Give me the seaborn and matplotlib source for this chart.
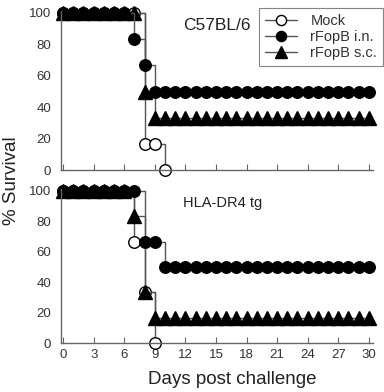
import matplotlib
matplotlib.use("Agg")
import matplotlib.pyplot as plt
from matplotlib.lines import Line2D
import numpy as np
import pandas as pd
import seaborn as sns

sns.set_style("ticks")
plt.rcParams['font.family'] = ['Liberation Sans', 'DejaVu Sans']

# ---- data ----
days = list(range(31))

top_mock = [100, 100, 100, 100, 100, 100, 100, 100, 16.7, 16.7, 0]
top_in = [100, 100, 100, 100, 100, 100, 100, 83.3, 66.7, 50, 50,
          50, 50, 50, 50, 50, 50, 50, 50, 50, 50,
          50, 50, 50, 50, 50, 50, 50, 50, 50, 50]
top_sc = [100, 100, 100, 100, 100, 100, 100, 100, 50, 33.3, 33.3,
          33.3, 33.3, 33.3, 33.3, 33.3, 33.3, 33.3, 33.3, 33.3, 33.3,
          33.3, 33.3, 33.3, 33.3, 33.3, 33.3, 33.3, 33.3, 33.3, 33.3]

bot_mock = [100, 100, 100, 100, 100, 100, 100, 66.7, 33.3, 0]
bot_in = [100, 100, 100, 100, 100, 100, 100, 100, 66.7, 66.7, 50,
          50, 50, 50, 50, 50, 50, 50, 50, 50, 50,
          50, 50, 50, 50, 50, 50, 50, 50, 50, 50]
bot_sc = [100, 100, 100, 100, 100, 100, 100, 83.3, 33.3, 16.7, 16.7,
          16.7, 16.7, 16.7, 16.7, 16.7, 16.7, 16.7, 16.7, 16.7, 16.7,
          16.7, 16.7, 16.7, 16.7, 16.7, 16.7, 16.7, 16.7, 16.7, 16.7]

groups = ["Mock", "rFopB i.n.", "rFopB s.c."]
panel_titles = ["C57BL/6", "HLA-DR4 tg"]
xticks = list(range(0, 31, 3))
yticks = [0, 20, 40, 60, 80, 100]

def to_df(mock, inn, sc):
    rows = []
    for name, vals in zip(groups, [mock, inn, sc]):
        for d, v in zip(days, vals):
            rows.append((name, d, v))
    return pd.DataFrame(rows, columns=["group", "day", "survival"])

dfs = [to_df(top_mock, top_in, top_sc), to_df(bot_mock, bot_in, bot_sc)]

styles = {
    "Mock": dict(marker="o", markerfacecolor="white", markersize=8.3),
    "rFopB s.c.": dict(marker="^", markerfacecolor="black", markersize=9.5),
    "rFopB i.n.": dict(marker="o", markerfacecolor="black", markersize=8.3),
}
order = ["Mock", "rFopB s.c.", "rFopB i.n."]

fig = plt.figure(figsize=(3.84, 3.92), dpi=100)
ax_top = fig.add_axes([0.159, 0.566, 0.812, 0.405])
ax_bot = fig.add_axes([0.159, 0.125, 0.812, 0.392])
axes = [ax_top, ax_bot]

for ax, df, title, tx in zip(axes, dfs, panel_titles, [12.5, 10.5]):
    for g in order:
        sub = df[df["group"] == g]
        sns.lineplot(data=sub, x="day", y="survival", ax=ax,
                     drawstyle="steps-post", color="#555555", linewidth=1,
                     markeredgecolor="black", markeredgewidth=1,
                     clip_on=False, label=g, legend=False, **styles[g])
    ax.set_xlim(-0.2, 30.4)
    ax.set_ylim(0, 101)
    ax.set_xticks(xticks)
    ax.set_yticks(yticks)
    ax.set_xlabel("")
    ax.set_ylabel("")
    sns.despine(ax=ax)
    for s in ["left", "bottom"]:
        ax.spines[s].set_color("#666666")
        ax.spines[s].set_linewidth(1)
    ax.tick_params(axis="x", direction="in", length=4, color="#666666",
                   labelsize=9.5, labelcolor="#333333", pad=4)
    ax.tick_params(axis="y", length=0, labelsize=9.5, labelcolor="#333333", pad=7)
    ax.text(11.8, 92, title, fontsize=tx, color="#222222", ha="left", va="center")

ax_top.set_xticklabels([])

handles = []
for g in groups:
    st = styles[g]
    handles.append(Line2D([], [], color="#555555", linewidth=1,
                          marker=st["marker"], markerfacecolor=st["markerfacecolor"],
                          markeredgecolor="black", markersize=st["markersize"] - 1))
leg = ax_top.legend(handles, groups, loc="upper right",
                    bbox_to_anchor=(383 / 384, 1 - 8 / 392),
                    bbox_transform=fig.transFigure, fontsize=10.5,
                    frameon=True, fancybox=False, handlelength=2.2,
                    borderpad=0.4, labelspacing=0.15, handletextpad=0.9,
                    borderaxespad=0)
leg.get_frame().set_edgecolor("#666666")
leg.get_frame().set_linewidth(0.8)
for t in leg.get_texts():
    t.set_color("#333333")

fig.text(0.031, 0.54, "% Survival", rotation=90, fontsize=13.5,
         color="#222222", ha="center", va="center")
fig.text(0.604, 0.031, "Days post challenge", fontsize=13.5,
         color="#222222", ha="center", va="center")

fig.savefig("out.png", dpi=100)
